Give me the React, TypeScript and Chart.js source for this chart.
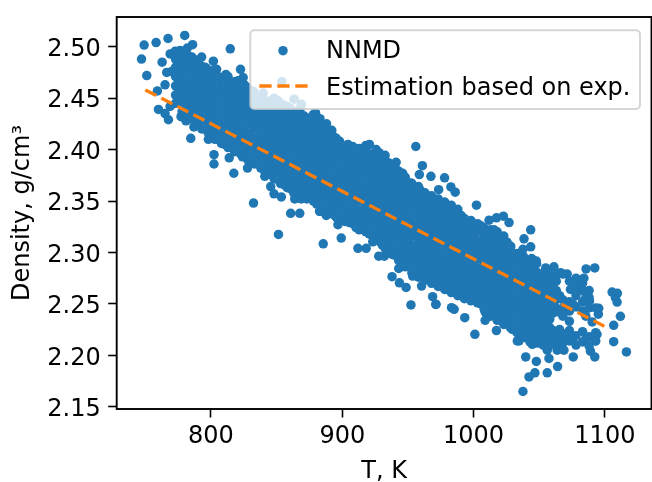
import React, { useEffect, useRef } from "react";
import { Chart, registerables } from "chart.js";

Chart.register(...registerables);

const seriesName = "NNMD";
const lineName = "Estimation based on exp.";
const xTitle = "T, K";
const yTitle = "Density, g/cm³";
const xTicks = [800, 900, 1000, 1100];
const yTicks = [2.15, 2.2, 2.25, 2.3, 2.35, 2.4, 2.45, 2.5];

const estT = [750, 1100];
const estDensity = [2.458, 2.228];

// Scattered points read individually: [T, density]
const scatterPoints: [number, number][] = [
  [749.1,2.5016],[758.2,2.504],[767.3,2.508],[780,2.511],[747.1,2.488],[762.8,2.485],[751.1,2.472],[814.7,2.498],[786,2.502],
  [759.2,2.457],[765,2.463],[760,2.439],[765,2.435],[767.6,2.429],[768.9,2.442],[777.2,2.432],[781,2.428],[784.6,2.411],[787,2.422],[790.4,2.426],
  [798,2.41],[802.3,2.395],[802.3,2.386],[813.9,2.392],[817.4,2.377],[827.8,2.382],[824,2.393],[832.4,2.348],[841,2.374],[845.5,2.364],[848,2.357],[853.6,2.354],
  [860.7,2.338],[867.6,2.338],[868.8,2.352],[883,2.34],[768.9,2.493],[772.7,2.4955],[776.5,2.4964],[782,2.4987],[775.2,2.487],[770.1,2.476],[766.3,2.475],
  [780.2,2.489],[788.6,2.487],[792.9,2.49],[801.8,2.486],[796.7,2.479],[804.3,2.478],[811.4,2.473],[808,2.47],[822.5,2.478],[824.5,2.47],[815.7,2.46],
  [854,2.466],[839.7,2.455],[832,2.457],[863.3,2.449],[868.8,2.444],[844.8,2.442],[836,2.444],
  [879.7,2.4356],[892,2.4187],[895.4,2.411],[904.3,2.405],[920.7,2.405],[925.8,2.4],[932.6,2.3945],[941,2.3877],[956,2.403],[961,2.3844],[958.7,2.3757],[967.5,2.374],
  [977.9,2.3725],[982.7,2.3637],[986,2.3586],[973.4,2.361],[959.4,2.3605],[963.7,2.352],[946,2.377],[952.3,2.3676],
  [851.4,2.3175],[885.5,2.3084],[899.2,2.314],[911.9,2.304],[918.2,2.304],[923.2,2.3103],[927.8,2.2964],[932,2.2964],[942.2,2.2964],[937.9,2.2764],[943,2.2844],[943.5,2.2705],
  [948.6,2.266],[960.4,2.2673],[952.3,2.249],[968.8,2.257],[971.3,2.2495],[953.6,2.277],[980.2,2.264],[986.5,2.2624],[983.2,2.2463],
  [882.7,2.34],[887.8,2.336],[896.7,2.327],[902.5,2.33],[913,2.322],[863.8,2.352],[876.4,2.353],[858.7,2.367],[891.6,2.345],
  [1002.2,2.346],[1043.5,2.322],[1011.8,2.3314],[1017.4,2.3337],[1022.7,2.3353],[1027,2.329],[1015.6,2.322],[1038.4,2.3133],[1043.5,2.3055],[1037.6,2.303],[1028.3,2.306],[1032,2.298],
  [1044.2,2.294],[1047.8,2.2916],[1061.2,2.286],[1085.7,2.284],[1092.3,2.285],[1084,2.275],[1071.3,2.279],[1066.2,2.2803],[1054.9,2.285],
  [1105.5,2.2615],[1109.5,2.2603],[1108,2.256],[1109.3,2.2518],[1111.8,2.2379],[1106.7,2.2292],[1106.7,2.2133],[1116.4,2.2033],[1095.3,2.2457],[1088.3,2.2528],[1081.4,2.264],[1095,2.24],
  [1090.3,2.2324],[1094,2.2204],[1092.8,2.214],[1092.3,2.1984],[1089,2.204],[1075.9,2.1984],[1068.8,2.205],[1063.7,2.205],[1064,2.189],[1056.1,2.183],[1057.4,2.197],[1047.8,2.194],
  [1039.7,2.1984],[1046.7,2.183],[1042.2,2.179],[1037.6,2.1648],[1033.3,2.214],[1001,2.2204],[1017.4,2.224],[1008.8,2.234],[1008.8,2.242],[993.3,2.2366],[985.2,2.2447],[971.3,2.2496],
  [1049.8,2.2247],[1052.3,2.2204],[1056.1,2.205],[1049.8,2.212],[1041,2.2243],[1029.5,2.2253],[1034.6,2.214],[1044.7,2.2107],[1073.8,2.264],
];

// Dense band, where single points cannot be told apart: [T, densities at that T]
const bandColumns: [number, number[]][] = [
  [773,[2.445,2.453,2.462,2.471,2.48,2.488]],
  [778,[2.437,2.449,2.458,2.466,2.475,2.484,2.493]],
  [783,[2.43,2.44,2.448,2.457,2.465,2.474,2.482,2.491]],
  [788,[2.426,2.434,2.443,2.452,2.461,2.47,2.478,2.486]],
  [793,[2.42,2.429,2.438,2.446,2.455,2.464,2.472,2.481]],
  [798,[2.416,2.425,2.434,2.442,2.451,2.46,2.468,2.476]],
  [803,[2.41,2.419,2.427,2.436,2.445,2.454,2.462,2.471,2.478]],
  [808,[2.406,2.414,2.423,2.432,2.441,2.45,2.458,2.467]],
  [813,[2.402,2.41,2.419,2.428,2.436,2.445,2.454,2.463,2.471]],
  [818,[2.398,2.407,2.415,2.424,2.433,2.441,2.45,2.459,2.466]],
  [823,[2.395,2.403,2.411,2.42,2.429,2.437,2.446,2.455,2.463]],
  [828,[2.39,2.399,2.408,2.416,2.425,2.434,2.442,2.451,2.46]],
  [833,[2.386,2.395,2.403,2.412,2.421,2.429,2.438,2.447,2.455]],
  [838,[2.382,2.391,2.399,2.408,2.417,2.425,2.434,2.443,2.451]],
  [843,[2.377,2.386,2.395,2.404,2.412,2.421,2.43,2.438,2.447]],
  [848,[2.372,2.381,2.39,2.399,2.407,2.416,2.425,2.433,2.442,2.45]],
  [853,[2.367,2.376,2.385,2.394,2.403,2.411,2.42,2.429,2.437,2.445]],
  [858,[2.363,2.372,2.381,2.389,2.398,2.407,2.416,2.424,2.433,2.442]],
  [863,[2.358,2.367,2.376,2.385,2.394,2.402,2.411,2.42,2.428,2.437]],
  [868,[2.356,2.364,2.372,2.381,2.39,2.398,2.407,2.416,2.424,2.433,2.44]],
  [873,[2.352,2.36,2.369,2.377,2.386,2.395,2.403,2.412,2.421,2.43]],
  [878,[2.35,2.358,2.366,2.374,2.383,2.392,2.4,2.409,2.418,2.426,2.434]],
  [883,[2.345,2.354,2.362,2.371,2.379,2.388,2.397,2.405,2.414,2.423,2.43]],
  [888,[2.341,2.35,2.358,2.367,2.376,2.384,2.393,2.402,2.41,2.419,2.425]],
  [893,[2.337,2.346,2.355,2.363,2.372,2.381,2.389,2.398,2.406,2.413]],
  [898,[2.333,2.342,2.351,2.359,2.368,2.377,2.385,2.394,2.402,2.408]],
  [903,[2.331,2.339,2.348,2.356,2.365,2.374,2.382,2.391,2.399]],
  [908,[2.328,2.337,2.345,2.354,2.362,2.371,2.38,2.388,2.396,2.403]],
  [913,[2.323,2.332,2.341,2.35,2.358,2.367,2.376,2.384,2.393,2.401]],
  [918,[2.32,2.329,2.337,2.346,2.355,2.363,2.372,2.381,2.389,2.398,2.404]],
  [923,[2.316,2.325,2.333,2.342,2.351,2.359,2.368,2.377,2.385,2.394]],
  [928,[2.311,2.32,2.329,2.338,2.346,2.355,2.364,2.372,2.381,2.39,2.397]],
  [933,[2.303,2.312,2.321,2.33,2.338,2.347,2.356,2.364,2.373,2.382,2.389]],
  [938,[2.298,2.306,2.315,2.323,2.332,2.341,2.349,2.358,2.367,2.375,2.384]],
  [943,[2.292,2.301,2.31,2.318,2.327,2.336,2.344,2.353,2.362,2.37,2.379]],
  [948,[2.286,2.295,2.304,2.312,2.321,2.33,2.339,2.347,2.356,2.365,2.373]],
  [953,[2.28,2.289,2.298,2.307,2.316,2.324,2.333,2.342,2.35,2.359,2.367]],
  [958,[2.276,2.285,2.294,2.303,2.311,2.32,2.329,2.337,2.346,2.355,2.364]],
  [963,[2.273,2.282,2.29,2.299,2.308,2.316,2.325,2.334,2.342,2.351,2.358]],
  [968,[2.27,2.278,2.287,2.296,2.304,2.313,2.321,2.33,2.339,2.347,2.355]],
  [973,[2.267,2.276,2.284,2.292,2.301,2.31,2.318,2.327,2.336,2.344,2.352]],
  [978,[2.264,2.273,2.281,2.29,2.298,2.307,2.316,2.324,2.333,2.342,2.349]],
  [983,[2.261,2.269,2.278,2.287,2.295,2.304,2.313,2.321,2.33,2.339,2.346]],
  [988,[2.258,2.267,2.275,2.284,2.293,2.301,2.31,2.319,2.327,2.336,2.342]],
  [993,[2.255,2.264,2.272,2.281,2.29,2.298,2.307,2.316,2.324,2.333]],
  [998,[2.253,2.262,2.27,2.279,2.288,2.296,2.305,2.314,2.322,2.331]],
  [1003,[2.251,2.259,2.268,2.276,2.285,2.294,2.302,2.311,2.32,2.328]],
  [1008,[2.245,2.254,2.263,2.271,2.28,2.289,2.297,2.306,2.315,2.324]],
  [1013,[2.238,2.247,2.256,2.265,2.273,2.282,2.291,2.299,2.308,2.317,2.322]],
  [1018,[2.234,2.243,2.252,2.261,2.269,2.278,2.287,2.295,2.304,2.313,2.32]],
  [1023,[2.23,2.239,2.248,2.257,2.265,2.274,2.283,2.291,2.3,2.309,2.316]],
  [1028,[2.227,2.236,2.245,2.253,2.262,2.271,2.279,2.288,2.297,2.305]],
  [1033,[2.222,2.231,2.24,2.248,2.257,2.266,2.274,2.283,2.292,2.299]],
  [1038,[2.218,2.227,2.236,2.244,2.253,2.262,2.27,2.279,2.288,2.296]],
  [1043,[2.213,2.222,2.231,2.239,2.248,2.257,2.265,2.274,2.283,2.292]],
  [1048,[2.212,2.22,2.229,2.238,2.247,2.255,2.264,2.273,2.281,2.289]],
  [1053,[2.21,2.219,2.228,2.236,2.245,2.254,2.262,2.271,2.28]],
  [1058,[2.21,2.218,2.227,2.235,2.244,2.253,2.261,2.27,2.279]],
  [1063,[2.211,2.22,2.246,2.254,2.263,2.272,2.278]],
  [1068,[2.212,2.221,2.238,2.246,2.254,2.279]],
  [1073,[2.214,2.224,2.233,2.243,2.252,2.272]],
  [1078,[2.21,2.219,2.247,2.258,2.267,2.275]],
  [1083,[2.213,2.223,2.243,2.252,2.263,2.27]],
  [1088,[2.209,2.218,2.246,2.256,2.263]],
  [1093,[2.214,2.222,2.246]],
];

// Second pass over the same band, read between the first pass's points
const bandColumnsInner: [number, number[]][] = [
  [775.5,[2.446,2.456,2.467,2.477,2.488]],
  [780.5,[2.436,2.444,2.453,2.461,2.47,2.479,2.487]],
  [785.5,[2.431,2.438,2.447,2.456,2.465,2.474,2.482,2.49]],
  [790.5,[2.424,2.433,2.442,2.45,2.459,2.468,2.476,2.484]],
  [795.5,[2.42,2.429,2.438,2.447,2.456,2.464,2.473,2.48]],
  [800.5,[2.414,2.423,2.431,2.44,2.449,2.458,2.466,2.474]],
  [805.5,[2.41,2.418,2.427,2.436,2.445,2.454,2.462,2.471]],
  [810.5,[2.405,2.414,2.423,2.432,2.441,2.449,2.458,2.467]],
  [815.5,[2.403,2.411,2.42,2.429,2.437,2.446,2.455,2.462]],
  [820.5,[2.398,2.407,2.416,2.425,2.434,2.442,2.451,2.46,2.467]],
  [825.5,[2.394,2.403,2.412,2.42,2.429,2.438,2.447,2.455,2.463]],
  [830.5,[2.39,2.399,2.407,2.416,2.425,2.434,2.443,2.451]],
  [835.5,[2.386,2.395,2.404,2.412,2.421,2.43,2.439,2.447,2.452]],
  [840.5,[2.38,2.389,2.398,2.406,2.415,2.424,2.433,2.441,2.449]],
  [845.5,[2.376,2.385,2.394,2.402,2.411,2.42,2.428,2.437,2.445]],
  [850.5,[2.371,2.38,2.389,2.398,2.406,2.415,2.424,2.433,2.441,2.448]],
  [855.5,[2.366,2.375,2.384,2.393,2.402,2.41,2.419,2.428,2.437,2.443]],
  [860.5,[2.362,2.371,2.38,2.389,2.397,2.406,2.415,2.424,2.432,2.44]],
  [865.5,[2.36,2.369,2.377,2.386,2.395,2.403,2.412,2.421,2.43,2.436]],
  [870.5,[2.355,2.364,2.373,2.381,2.39,2.399,2.408,2.416,2.425,2.433]],
  [875.5,[2.354,2.362,2.371,2.38,2.388,2.397,2.406,2.414,2.423,2.431]],
  [880.5,[2.347,2.356,2.365,2.374,2.382,2.391,2.4,2.408,2.417,2.426]],
  [885.5,[2.346,2.354,2.363,2.372,2.381,2.389,2.398,2.407,2.416,2.424]],
  [890.5,[2.338,2.347,2.356,2.365,2.373,2.382,2.391,2.4,2.408,2.416]],
  [895.5,[2.334,2.343,2.352,2.361,2.37,2.379,2.387,2.396,2.405]],
  [900.5,[2.332,2.34,2.349,2.358,2.366,2.375,2.384,2.393,2.401]],
  [905.5,[2.329,2.338,2.347,2.355,2.364,2.373,2.381,2.39,2.398,2.402]],
  [910.5,[2.324,2.333,2.342,2.35,2.359,2.368,2.376,2.385,2.394,2.4]],
  [915.5,[2.324,2.333,2.341,2.35,2.359,2.368,2.376,2.385,2.393,2.401]],
  [920.5,[2.318,2.327,2.336,2.344,2.353,2.362,2.37,2.379,2.388,2.396]],
  [925.5,[2.315,2.324,2.333,2.341,2.35,2.359,2.367,2.376,2.385,2.393]],
  [930.5,[2.307,2.316,2.325,2.333,2.342,2.351,2.36,2.368,2.377,2.386,2.393]],
  [935.5,[2.302,2.311,2.319,2.328,2.337,2.345,2.354,2.363,2.371,2.38,2.387]],
  [940.5,[2.297,2.306,2.315,2.324,2.332,2.341,2.35,2.358,2.367,2.376,2.382]],
  [945.5,[2.29,2.299,2.308,2.316,2.325,2.334,2.343,2.351,2.36,2.369,2.376]],
  [950.5,[2.287,2.296,2.304,2.313,2.322,2.33,2.339,2.348,2.357,2.365]],
  [955.5,[2.281,2.29,2.299,2.307,2.316,2.325,2.333,2.342,2.351,2.36]],
  [960.5,[2.277,2.286,2.295,2.304,2.312,2.321,2.33,2.338,2.347,2.356]],
  [965.5,[2.275,2.284,2.292,2.301,2.31,2.318,2.327,2.336,2.345,2.353]],
  [970.5,[2.272,2.281,2.29,2.298,2.307,2.316,2.324,2.333,2.342,2.35]],
  [975.5,[2.27,2.279,2.287,2.296,2.305,2.313,2.322,2.331,2.339,2.348]],
  [980.5,[2.266,2.275,2.284,2.292,2.301,2.31,2.318,2.327,2.336,2.344]],
  [985.5,[2.263,2.272,2.281,2.289,2.298,2.307,2.315,2.324,2.333,2.34]],
  [990.5,[2.26,2.269,2.278,2.287,2.295,2.304,2.313,2.321,2.33,2.336]],
  [995.5,[2.257,2.266,2.275,2.284,2.293,2.301,2.31,2.319,2.328]],
  [1000.5,[2.256,2.265,2.274,2.283,2.291,2.3,2.309,2.317,2.326]],
  [1005.5,[2.25,2.259,2.268,2.277,2.285,2.294,2.303,2.311,2.32,2.326]],
  [1010.5,[2.242,2.251,2.26,2.268,2.277,2.286,2.294,2.303,2.312,2.32]],
  [1015.5,[2.239,2.248,2.257,2.265,2.274,2.283,2.291,2.3,2.309,2.318]],
  [1020.5,[2.235,2.244,2.252,2.261,2.27,2.278,2.287,2.296,2.305,2.314]],
  [1025.5,[2.232,2.241,2.25,2.258,2.267,2.276,2.284,2.293,2.302,2.31]],
  [1030.5,[2.226,2.235,2.243,2.252,2.261,2.27,2.278,2.287,2.296]],
  [1035.5,[2.222,2.231,2.24,2.249,2.257,2.266,2.275,2.283,2.292]],
  [1040.5,[2.217,2.226,2.235,2.243,2.252,2.261,2.27,2.278,2.287]],
  [1045.5,[2.216,2.225,2.234,2.243,2.251,2.26,2.269,2.277,2.286]],
  [1050.5,[2.214,2.223,2.232,2.241,2.25,2.258,2.267,2.276]],
  [1055.5,[2.214,2.222,2.231,2.24,2.249,2.257,2.266,2.274]],
  [1060.5,[2.215,2.224,2.241,2.25,2.258,2.267,2.275]],
  [1065.5,[2.216,2.225,2.242,2.258]],
  [1070.5,[2.218,2.248]],
  [1075.5,[2.216,2.25,2.27]],
  [1085.5,[2.216,2.238,2.256]],
];

const nnmdData = [
  ...scatterPoints.map(([x, y]) => ({ x, y })),
  ...bandColumns.flatMap(([x, ys]) => ys.map((y) => ({ x, y }))),
  ...bandColumnsInner.flatMap(([x, ys]) => ys.map((y) => ({ x, y }))),
];
const estData = estT.map((x, i) => ({ x, y: estDensity[i] }));

const BLUE = "#1f77b4";
const ORANGE = "#ff7f0e";
const FONT = '"DejaVu Sans"';
const FONT_SIZE = 24;
const DASH = [12.3, 5.7];
const POINT_RADIUS = 4.75;

const framePlugin = {
  id: "frame",
  afterDatasetsDraw(chart: any) {
    const { ctx, chartArea: a } = chart;
    ctx.save();
    ctx.strokeStyle = "#000";
    ctx.lineWidth = 1.9;
    ctx.strokeRect(a.left, a.top, a.right - a.left, a.bottom - a.top);
    ctx.restore();
  },
};

const legendPlugin = {
  id: "boxLegend",
  afterDraw(chart: any) {
    const { ctx } = chart;
    const [scatter, line] = chart.data.datasets;
    ctx.save();
    ctx.beginPath();
    ctx.roundRect(250.3, 30.3, 389.7, 78.7, 4);
    ctx.fillStyle = "rgba(255,255,255,0.8)";
    ctx.fill();
    ctx.strokeStyle = "rgba(204,204,204,0.8)";
    ctx.lineWidth = 2;
    ctx.stroke();

    ctx.beginPath();
    ctx.arc(283, 50.7, POINT_RADIUS, 0, Math.PI * 2);
    ctx.fillStyle = BLUE;
    ctx.fill();

    ctx.beginPath();
    ctx.setLineDash(DASH);
    ctx.strokeStyle = ORANGE;
    ctx.lineWidth = 3.3;
    ctx.moveTo(259.3, 86);
    ctx.lineTo(307.7, 86);
    ctx.stroke();
    ctx.setLineDash([]);

    ctx.fillStyle = "#000";
    ctx.font = `${FONT_SIZE}px ${FONT}`;
    ctx.textBaseline = "alphabetic";
    ctx.textAlign = "left";
    ctx.fillText(scatter.label, 326, 58.3);
    ctx.fillText(line.label, 326, 95);
    ctx.restore();
  },
};

export default function App() {
  const ref = useRef<HTMLCanvasElement>(null);
  useEffect(() => {
    document.body.style.margin = "0";
    const tickFont = { family: FONT, size: FONT_SIZE };
    const tickGrid = { drawOnChartArea: false, drawTicks: true, tickLength: 8.5, tickColor: "#000", tickWidth: 1.6 };
    const chart = new Chart(ref.current!, {
      type: "scatter",
      data: {
        datasets: [
          {
            label: seriesName,
            data: nnmdData,
            backgroundColor: BLUE,
            borderWidth: 0,
            pointRadius: POINT_RADIUS,
            order: 2,
          },
          {
            label: lineName,
            data: estData,
            showLine: true,
            borderColor: ORANGE,
            borderWidth: 3.3,
            borderDash: DASH,
            pointRadius: 0,
            order: 1,
          },
        ],
      } as any,
      options: {
        animation: false,
        responsive: false,
        layout: { autoPadding: false, padding: { top: 17, right: 0.5, left: 0, bottom: 0 } },
        plugins: { legend: { display: false }, tooltip: { enabled: false } },
        scales: {
          x: {
            type: "linear",
            min: 728.2,
            max: 1135.5,
            afterBuildTicks: (s: any) => {
              s.ticks = xTicks.map((value) => ({ value }));
            },
            afterFit: (s: any) => {
              s.height = 73;
              s.paddingLeft = 0;
              s.paddingRight = 0;
            },
            grid: tickGrid,
            border: { display: false },
            ticks: { color: "#000", font: tickFont, padding: 5, maxRotation: 0, callback: (v: any) => String(v) },
            title: { display: true, text: xTitle, color: "#000", font: tickFont, padding: { top: 6, bottom: -4 } },
          },
          y: {
            type: "linear",
            min: 2.1478,
            max: 2.5289,
            afterBuildTicks: (s: any) => {
              s.ticks = yTicks.map((value) => ({ value }));
            },
            afterFit: (s: any) => {
              s.width = 116.7;
              s.paddingTop = 0;
              s.paddingBottom = 0;
            },
            afterUpdate: (s: any) => {
              // matplotlib centres the digits a little lower than the tick
              if (s.__shifted) return;
              s.__shifted = true;
              const draw = s.drawLabels;
              s.drawLabels = function (area: any) {
                s.ctx.save();
                s.ctx.translate(0, 3);
                draw.call(s, area);
                s.ctx.restore();
              };
            },
            grid: tickGrid,
            border: { display: false },
            ticks: { color: "#000", font: tickFont, padding: 7.5, callback: (v: any) => Number(v).toFixed(2) },
            title: { display: true, text: yTitle, color: "#000", font: tickFont, padding: { top: 8, bottom: 6 } },
          },
        },
      },
      plugins: [framePlugin, legendPlugin],
    } as any);
    return () => chart.destroy();
  }, []);
  return (
    <div style={{ width: 652, height: 482 }}>
      <canvas ref={ref} width={652} height={482} style={{ display: "block" }} />
    </div>
  );
}
